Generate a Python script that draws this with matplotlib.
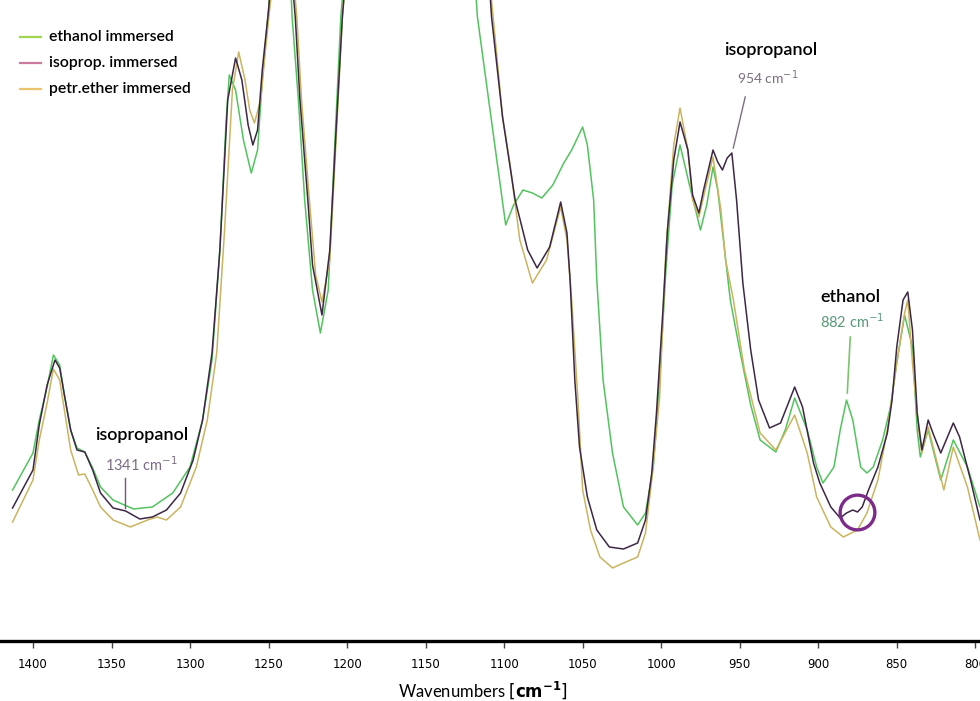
import matplotlib.pyplot as plt

# wavenumber [cm-1] / absorbance (a.u.)
iso_w = [1413, 1400, 1396, 1391, 1386, 1383, 1380, 1376, 1372, 1367, 1362, 1357, 1349, 1341,
         1332, 1324, 1315, 1306, 1298, 1292, 1286, 1281, 1276, 1271, 1267, 1263, 1260, 1257,
         1254, 1250, 1248, 1243, 1238, 1235, 1233, 1230, 1225, 1222, 1216, 1211, 1207, 1203,
         1199, 1166, 1122, 1110, 1108, 1101, 1093, 1085, 1079, 1071, 1064, 1060, 1058, 1055,
         1052, 1047, 1041, 1033, 1024, 1015, 1010, 1006, 1003, 999, 996, 992, 988, 983, 980,
         976, 973, 967, 964, 961, 958, 955, 952, 948, 943, 938, 931, 924, 915, 910, 903, 899,
         892, 886, 882, 878, 875, 872, 868, 862, 856, 853, 850, 846, 843, 840, 837, 834, 830,
         827, 822, 814, 810, 803, 797]
iso_a = [0.266, 0.342, 0.432, 0.512, 0.562, 0.546, 0.492, 0.422, 0.382, 0.378, 0.342, 0.296,
         0.266, 0.260, 0.244, 0.248, 0.262, 0.296, 0.362, 0.442, 0.576, 0.782, 1.082, 1.166,
         1.122, 1.032, 0.992, 1.022, 1.142, 1.262, 1.342, 1.462, 1.402, 1.322, 1.248, 1.082,
         0.882, 0.752, 0.652, 0.782, 1.022, 1.248, 1.402, 1.682, 1.522, 1.342, 1.248, 1.048,
         0.882, 0.782, 0.746, 0.788, 0.878, 0.816, 0.722, 0.522, 0.388, 0.288, 0.222, 0.188,
         0.184, 0.196, 0.242, 0.336, 0.456, 0.656, 0.822, 0.962, 1.038, 0.982, 0.892, 0.856,
         0.902, 0.982, 0.958, 0.942, 0.966, 0.976, 0.882, 0.716, 0.582, 0.482, 0.426, 0.436,
         0.508, 0.468, 0.356, 0.316, 0.268, 0.246, 0.256, 0.262, 0.258, 0.268, 0.302, 0.348,
         0.416, 0.482, 0.588, 0.682, 0.698, 0.622, 0.456, 0.382, 0.442, 0.416, 0.376, 0.436,
         0.408, 0.322, 0.242]

eth_w = [1413, 1400, 1396, 1391, 1387, 1383, 1380, 1376, 1372, 1367, 1362, 1357, 1349, 1336,
         1324, 1311, 1300, 1292, 1286, 1281, 1277, 1275, 1271, 1266, 1261, 1257, 1254, 1250,
         1248, 1243, 1238, 1236, 1235, 1231, 1227, 1222, 1217, 1212, 1208, 1204, 1200, 1166,
         1125, 1119, 1117, 1107, 1099, 1094, 1088, 1082, 1076, 1069, 1062, 1057, 1050, 1047,
         1043, 1041, 1037, 1031, 1024, 1015, 1010, 1005, 1001, 997, 993, 988, 982, 975, 971,
         967, 964, 960, 956, 950, 943, 937, 927, 921, 915, 907, 901, 897, 890, 886, 882, 878,
         873, 869, 865, 859, 854, 850, 845, 840, 837, 835, 830, 822, 814, 805, 797]
eth_a = [0.302, 0.376, 0.442, 0.508, 0.572, 0.552, 0.492, 0.422, 0.386, 0.378, 0.346, 0.308,
         0.282, 0.264, 0.268, 0.296, 0.348, 0.442, 0.562, 0.782, 1.042, 1.132, 1.102, 1.002,
         0.936, 0.982, 1.122, 1.262, 1.342, 1.462, 1.402, 1.322, 1.248, 1.082, 0.882, 0.702,
         0.616, 0.702, 0.982, 1.248, 1.402, 1.682, 1.522, 1.342, 1.248, 1.016, 0.832, 0.872,
         0.902, 0.896, 0.886, 0.912, 0.956, 0.982, 1.028, 0.992, 0.882, 0.722, 0.522, 0.376,
         0.268, 0.232, 0.256, 0.348, 0.522, 0.742, 0.912, 0.992, 0.912, 0.822, 0.872, 0.948,
         0.902, 0.792, 0.682, 0.582, 0.472, 0.402, 0.378, 0.422, 0.486, 0.422, 0.348, 0.316,
         0.348, 0.422, 0.482, 0.442, 0.348, 0.336, 0.348, 0.402, 0.468, 0.556, 0.652, 0.588,
         0.422, 0.368, 0.422, 0.322, 0.402, 0.348, 0.268]

pet_w = [1413, 1400, 1396, 1391, 1387, 1383, 1380, 1376, 1371, 1367, 1362, 1357, 1349, 1338,
         1327, 1321, 1315, 1306, 1296, 1289, 1283, 1278, 1273, 1269, 1265, 1262, 1259, 1255,
         1252, 1249, 1246, 1242, 1237, 1234, 1232, 1229, 1224, 1220, 1216, 1211, 1207, 1203,
         1199, 1166, 1122, 1110, 1107, 1101, 1096, 1090, 1082, 1073, 1064, 1060, 1057, 1053,
         1050, 1045, 1039, 1031, 1024, 1015, 1010, 1006, 1001, 997, 992, 988, 983, 980, 976,
         972, 967, 962, 959, 954, 947, 937, 927, 915, 907, 901, 892, 884, 875, 869, 862, 856,
         850, 845, 843, 840, 836, 834, 830, 820, 814, 805, 797]
pet_a = [0.238, 0.322, 0.402, 0.476, 0.544, 0.522, 0.462, 0.382, 0.332, 0.334, 0.302, 0.268,
         0.242, 0.228, 0.242, 0.248, 0.242, 0.268, 0.348, 0.442, 0.576, 0.822, 1.102, 1.178,
         1.122, 1.062, 1.036, 1.082, 1.182, 1.272, 1.342, 1.462, 1.402, 1.322, 1.248, 1.082,
         0.882, 0.732, 0.678, 0.762, 1.002, 1.248, 1.402, 1.682, 1.522, 1.342, 1.248, 1.048,
         0.948, 0.802, 0.716, 0.762, 0.868, 0.802, 0.682, 0.482, 0.302, 0.222, 0.168, 0.146,
         0.156, 0.168, 0.216, 0.322, 0.488, 0.782, 0.992, 1.066, 0.982, 0.882, 0.848, 0.902,
         0.968, 0.862, 0.762, 0.682, 0.542, 0.416, 0.382, 0.452, 0.376, 0.288, 0.228, 0.208,
         0.222, 0.256, 0.322, 0.422, 0.556, 0.656, 0.682, 0.556, 0.422, 0.376, 0.428, 0.302,
         0.388, 0.308, 0.202]

labels = ['ethanol immersed', 'isoprop. immersed', 'petr.ether immersed']
legend_colors = ['#a2d54e', '#c97b9f', '#e9c46c']
ticks = [1400, 1350, 1300, 1250, 1200, 1150, 1100, 1050, 1000, 950, 900, 850, 800]

tf = ['Lato', 'DejaVu Sans']

fig = plt.figure(figsize=(9.8, 7.01), dpi=100)
ax = fig.add_axes([0, 60 / 701, 1, 641 / 701])

ax.plot(eth_w, eth_a, color='#52c45e', lw=1.1)
ax.plot(pet_w, pet_a, color='#cbb45f', lw=1.1)
ax.plot(iso_w, iso_a, color='#3d2744', lw=1.1)

ax.set_xlim(1421, 797)
ax.set_ylim(0, 1.282)
for s in ['top', 'right', 'left']:
    ax.spines[s].set_visible(False)
ax.spines['bottom'].set_linewidth(2.4)
ax.set_yticks([])
ax.set_xticks(ticks)
ax.set_xticklabels([str(t) for t in ticks], family=['Liberation Sans Narrow', 'DejaVu Sans'],
                   fontsize=8.5)
ax.tick_params(axis='x', direction='out', length=5, width=1, color='#444444', pad=7)
fig.text(483 / 980, 1 - 690 / 701, r'Wavenumbers $\left[\mathbf{cm^{-1}}\right]$',
         ha='center', va='center', fontsize=12, family=tf)

# legend drawn by hand (its colours differ from the plotted lines)
for i, (lab, c) in enumerate(zip(labels, legend_colors)):
    yy = 1 - (37 + 26 * i) / 641
    ax.plot([0.020, 0.042], [yy, yy], color=c, lw=1.6, transform=ax.transAxes)
    ax.text(0.050, yy, lab, transform=ax.transAxes, va='center', ha='left',
            fontsize=11.3, weight='semibold', family=tf)

# annotations
ax.text(1331, 0.412, 'isopropanol', ha='center', va='center', fontsize=13,
        weight='semibold', family=tf)
ax.text(1331, 0.352, r'1341 cm$^{-1}$', ha='center', va='center', fontsize=10.5,
        color='#7d6b86', family=tf)
ax.plot([1341.4, 1341.4], [0.326, 0.266], color='#6e5b78', lw=1)

ax.text(930, 1.182, 'isopropanol', ha='center', va='center', fontsize=13,
        weight='semibold', family=tf)
ax.text(932, 1.126, r'954 cm$^{-1}$', ha='center', va='center', fontsize=10,
        color='#7d6f82', family=tf)
ax.plot([946.5, 954.1], [1.088, 0.986], color='#7a6e80', lw=1)

ax.text(879.6, 0.688, 'ethanol', ha='center', va='center', fontsize=13,
        weight='semibold', family=tf)
ax.text(878.3, 0.638, r'882 cm$^{-1}$', ha='center', va='center', fontsize=10.5,
        color='#5a9a78', family=tf)
ax.plot([879.6, 881.5], [0.608, 0.496], color='#7cc46a', lw=1.2)

ax.plot([875.1], [0.258], marker='o', markersize=25, markerfacecolor='none',
        markeredgecolor='#7d2b8a', markeredgewidth=2.4)

fig.savefig('out.png', dpi=100)
